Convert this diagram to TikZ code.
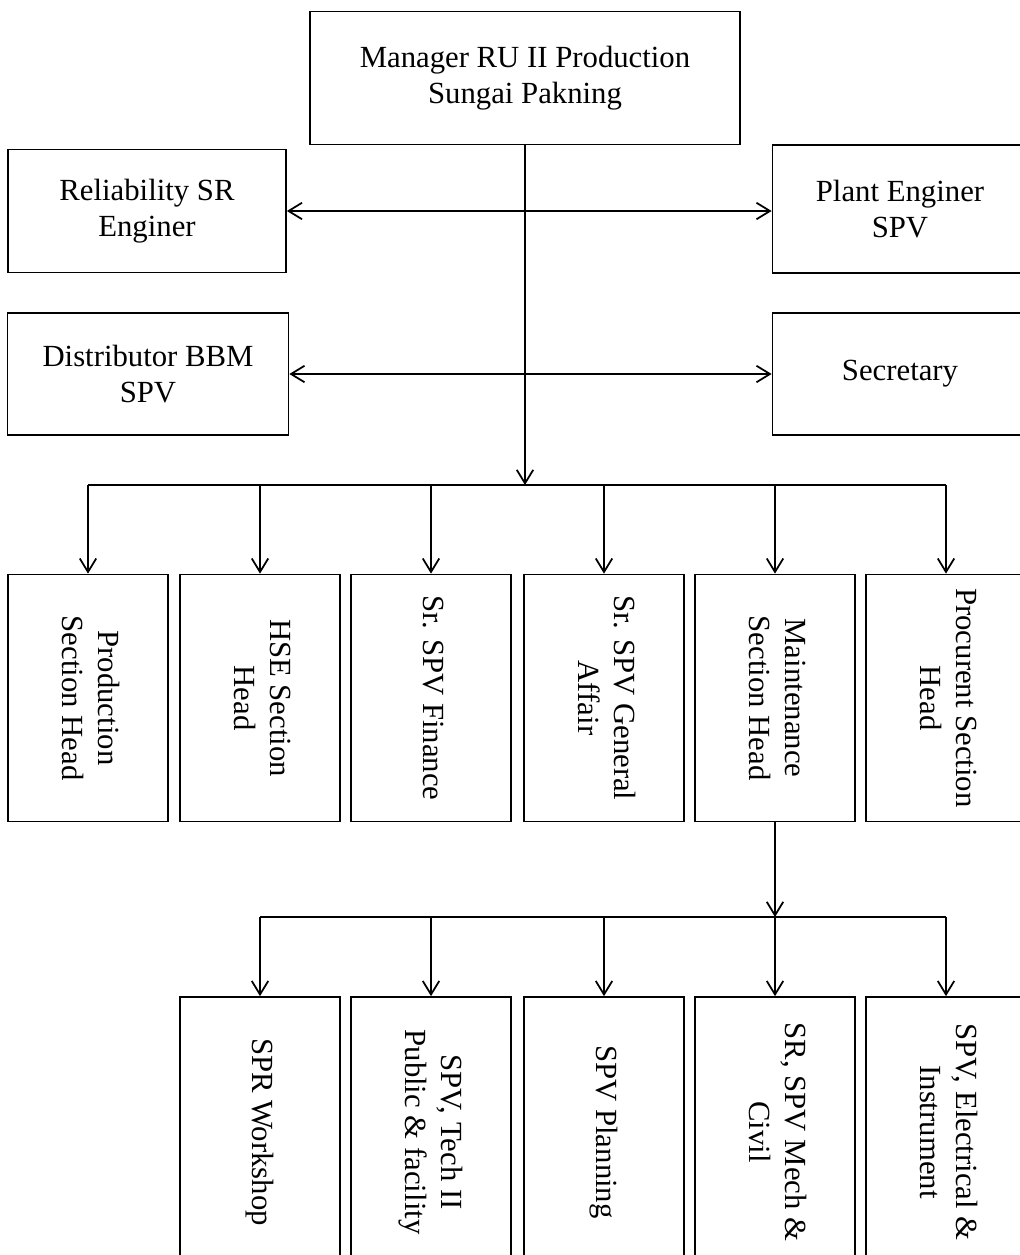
\documentclass[tikz,border=0pt]{standalone}
\usepackage{fontspec}
\setmainfont{Liberation Serif}
\usetikzlibrary{arrows.meta}

\newcommand{\vlabel}[1]{\rotatebox{-90}{\begin{tabular}{@{}c@{}}#1\end{tabular}}}

\begin{document}
\begin{tikzpicture}[x=0.02cm, y=-0.02cm,
  >={Straight Barb[length=2.7mm,width=3.3mm]},
  every node/.style={font=\fontsize{17.5}{20.5}\selectfont},
  line/.style={line width=1pt},
  box/.style={draw, line, align=center, inner sep=0pt},
  vbox/.style={draw, line, inner sep=0pt, minimum width=3.2cm, minimum height=4.94cm},
  lowbox/.style={vbox, minimum height=5.4cm}]
\useasboundingbox (0,0) rectangle (1020,1255);
\clip (0,0) rectangle (1020,1255);

% top of the chart
\node[box, minimum width=8.6cm, minimum height=2.66cm] (mgr) at (525,78) {Manager RU II Production\\Sungai Pakning};
\node[box, minimum width=5.56cm, minimum height=2.46cm] (rel) at (147,211) {Reliability SR\\Enginer};
\node[box, minimum width=5.1cm, minimum height=2.56cm] (plant) at (900,209) {Plant Enginer\\SPV};
\node[box, minimum width=5.62cm, minimum height=2.44cm] (dist) at (148,374) {Distributor BBM\\SPV};
\node[box, minimum width=5.1cm, minimum height=2.44cm] (sec) at (900,374) {Secretary};

% section heads
\node[vbox] (prod) at (88,698) {\vlabel{Production\\Section Head}};
\node[vbox] (hse) at (260,698) {\vlabel{HSE Section\\Head}};
\node[vbox] (fin) at (431,698) {\vlabel{Sr. SPV Finance}};
\node[vbox] (ga) at (604,698) {\vlabel{Sr. SPV General\\Affair}};
\node[vbox] (maint) at (775,698) {\vlabel{Maintenance\\Section Head}};
\node[vbox] (proc) at (946,698) {\vlabel{Procurent Section\\Head}};

% under maintenance
\node[lowbox] (wsh) at (260,1132) {\vlabel{SPR Workshop}};
\node[lowbox] (tech) at (431,1132) {\vlabel{SPV, Tech II\\Public \& facility}};
\node[lowbox] (plan) at (604,1132) {\vlabel{SPV Planning}};
\node[lowbox] (civil) at (775,1132) {\vlabel{SR, SPV Mech \&\\Civil}};
\node[lowbox] (elec) at (946,1132) {\vlabel{SPV, Electrical \&\\Instrument}};

\coordinate (bus1) at (525,485);
\coordinate (bus2) at (775,917);

\draw[line, <->] (rel.east) -- (rel.east -| plant.west);
\draw[line, <->] (dist) -- (sec);
\draw[line, ->] (mgr) -- (bus1);
\draw[line] (prod.north |- bus1) -- (proc.north |- bus1);
\foreach \n in {prod,hse,fin,ga,maint,proc}
  \draw[line, ->] (\n.north |- bus1) -- (\n.north);
\draw[line, ->] (maint) -- (bus2);
\draw[line] (wsh.north |- bus2) -- (elec.north |- bus2);
\foreach \n in {wsh,tech,plan,civil,elec}
  \draw[line, ->] (\n.north |- bus2) -- (\n.north);
\end{tikzpicture}
\end{document}
